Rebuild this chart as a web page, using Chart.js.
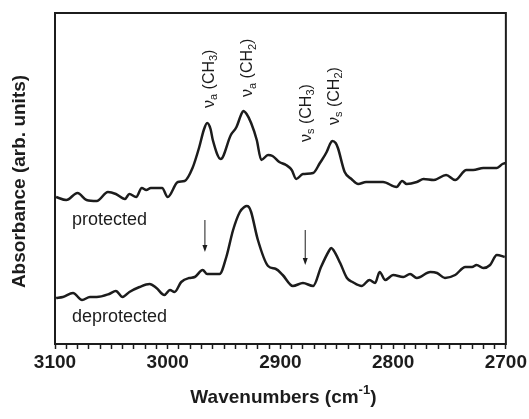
<!DOCTYPE html>
<html>
<head>
<meta charset="utf-8">
<title>IR spectra</title>
<script src="https://cdn.jsdelivr.net/npm/chart.js@4.4.1/dist/chart.umd.min.js"></script>
<style>
  html, body { margin: 0; padding: 0; background: #fff; }
  #wrap { width: 529px; height: 419px; }
</style>
</head>
<body>
<div id="wrap"><canvas id="irChart" width="529" height="419"></canvas></div>
<script>
// Espectros IR (region C-H)

const protectedWn = [3099, 3090, 3080, 3072, 3063, 3053, 3046, 3038, 3034, 3028, 3023, 3019, 3015, 3005, 3000,
    2991, 2985, 2978, 2972, 2968, 2965, 2962, 2960, 2953, 2944, 2939, 2935, 2933, 2930, 2926, 2921, 2917, 2911, 2907, 2901, 2895, 2890,
    2886, 2880, 2871, 2865, 2859, 2856, 2854, 2851, 2849, 2843, 2837, 2831, 2824, 2815, 2809, 2797, 2792, 2788, 2779, 2773,
    2764, 2753, 2745, 2735, 2729, 2720, 2708, 2703, 2700];
const protectedAbs = [1.47, 1.44, 1.51, 1.44, 1.43, 1.52, 1.50, 1.45, 1.50, 1.47, 1.56, 1.54, 1.56, 1.56, 1.47,
    1.62, 1.63, 1.76, 1.97, 2.14, 2.21, 2.15, 2.04, 1.85, 2.09, 2.17, 2.29, 2.33, 2.30, 2.21, 2.04, 1.84, 1.89, 1.88, 1.82, 1.79, 1.74,
    1.65, 1.70, 1.71, 1.81, 1.92, 2.00, 2.03, 2.01, 1.96, 1.72, 1.65, 1.60, 1.62, 1.62, 1.62, 1.57, 1.63, 1.60, 1.62, 1.65,
    1.64, 1.69, 1.64, 1.74, 1.74, 1.76, 1.76, 1.80, 1.81];

const deprotectedWn = [3099, 3093, 3084, 3076, 3069, 3063, 3052, 3046, 3040, 3034, 3025, 3016, 3010, 3003, 2998,
    2994, 2988, 2981, 2976, 2969, 2965, 2954, 2948, 2942, 2936, 2932, 2930, 2928, 2926, 2920, 2911, 2904, 2898, 2889, 2880,
    2871, 2864, 2857, 2855, 2853, 2847, 2841, 2836, 2828, 2821, 2816, 2812, 2807, 2800, 2791, 2785, 2779, 2767, 2761, 2754,
    2745, 2736, 2730, 2726, 2720, 2714, 2708, 2701];
const deprotectedAbs = [0.46, 0.47, 0.51, 0.44, 0.47, 0.47, 0.50, 0.53, 0.47, 0.52, 0.57, 0.60, 0.56, 0.49, 0.54,
    0.52, 0.62, 0.66, 0.67, 0.74, 0.70, 0.70, 0.87, 1.14, 1.32, 1.37, 1.38, 1.37, 1.32, 1.04, 0.78, 0.75, 0.69, 0.58, 0.61,
    0.58, 0.77, 0.93, 0.96, 0.94, 0.81, 0.66, 0.62, 0.58, 0.64, 0.61, 0.72, 0.64, 0.69, 0.67, 0.70, 0.66, 0.72, 0.71, 0.66,
    0.69, 0.77, 0.77, 0.79, 0.76, 0.79, 0.89, 0.87];

// bandas asignadas (modo, grupo) y donde empieza cada etiqueta
const bandModes = ['a', 'a', 's', 's'];
const bandGroups = ['3', '2', '3', '2'];
const bandWn = [2963, 2929, 2877, 2852];
const bandLabelBase = [2.36, 2.47, 2.02, 2.19];

// flechas sobre el espectro desprotegido
const arrowWn = [2967, 2878];
const arrowFrom = [1.24, 1.14];
const arrowTo = [0.92, 0.79];

const xMin = 2700, xMax = 3100;

const FONT = '"Liberation Sans", Arial, Helvetica, sans-serif';
const INK = '#1c1c1c';

/**
 * Dibuja texto con sub/superindices desde (0,0), baseline middle
 */
function drawRuns(ctx, runs, size, weight, measureOnly) {
    let x = 0;
    runs.forEach(([t, kind]) => {
        const s = kind ? Math.round(size * 0.68) : size;
        ctx.font = `${weight} ${s}px ${FONT}`;
        const dy = kind === 'sub' ? size * 0.3 : kind === 'sup' ? -size * 0.4 : 0;
        if (!measureOnly) ctx.fillText(t, x, dy);
        x += ctx.measureText(t).width;
    });
    return x;
}

const annotations = {
    id: 'annotations',
    afterDraw(chart) {
        const { ctx, chartArea: a, scales: { x, y } } = chart;
        ctx.save();
        ctx.fillStyle = INK;
        ctx.strokeStyle = INK;
        ctx.textBaseline = 'middle';
        ctx.textAlign = 'left';

        // marco
        ctx.lineWidth = 2;
        ctx.strokeRect(a.left, a.top, a.right - a.left, a.bottom - a.top);

        // etiquetas de bandas (verticales)
        bandWn.forEach((w, i) => {
            ctx.save();
            ctx.translate(x.getPixelForValue(w), y.getPixelForValue(bandLabelBase[i]));
            ctx.rotate(-Math.PI / 2);
            drawRuns(ctx, [['\u03bd', ''], [bandModes[i], 'sub'], [' (CH', ''], [bandGroups[i], 'sub'], [')', '']], 16, 'normal');
            ctx.restore();
        });

        // flechas
        ctx.lineWidth = 1;
        arrowWn.forEach((w, i) => {
            const px = x.getPixelForValue(w);
            const y0 = y.getPixelForValue(arrowFrom[i]);
            const y1 = y.getPixelForValue(arrowTo[i]);
            ctx.beginPath();
            ctx.moveTo(px, y0);
            ctx.lineTo(px, y1 - 6);
            ctx.stroke();
            ctx.beginPath();
            ctx.moveTo(px - 2.5, y1 - 7);
            ctx.lineTo(px + 2.5, y1 - 7);
            ctx.lineTo(px, y1);
            ctx.closePath();
            ctx.fill();
        });

        // nombres de las curvas
        ctx.font = `18px ${FONT}`;
        ctx.fillText('protected', x.getPixelForValue(3085), y.getPixelForValue(1.24));
        ctx.fillText('deprotected', x.getPixelForValue(3085), y.getPixelForValue(0.27));

        // titulo eje x
        const xRuns = [['Wavenumbers (cm', ''], ['-1', 'sup'], [')', '']];
        const tw = drawRuns(ctx, xRuns, 19, 'bold', true);
        ctx.save();
        ctx.translate((a.left + a.right) / 2 - tw / 2 + 3, 398);
        drawRuns(ctx, xRuns, 19, 'bold');
        ctx.restore();

        // titulo eje y
        ctx.save();
        ctx.font = `bold 19px ${FONT}`;
        ctx.textAlign = 'center';
        ctx.translate(20, (a.top + a.bottom) / 2 + 3);
        ctx.rotate(-Math.PI / 2);
        ctx.fillText('Absorbance (arb. units)', 0, 0);
        ctx.restore();

        ctx.restore();
    }
};

const toPoints = (wn, abs) => wn.map((w, i) => ({ x: w, y: abs[i] }));

new Chart(document.getElementById('irChart'), {
    type: 'line',
    data: {
        datasets: [{
            label: 'protected',
            data: toPoints(protectedWn, protectedAbs),
            borderColor: INK,
            borderWidth: 2.5,
            pointRadius: 0,
            cubicInterpolationMode: 'monotone',
        }, {
            label: 'deprotected',
            data: toPoints(deprotectedWn, deprotectedAbs),
            borderColor: INK,
            borderWidth: 2.5,
            pointRadius: 0,
            cubicInterpolationMode: 'monotone',
        }],
    },
    options: {
        responsive: false,
        animation: false,
        devicePixelRatio: 1,
        layout: { padding: { left: 55, top: 13, right: 23, bottom: 0 } },
        plugins: {
            legend: { display: false },
            tooltip: { enabled: false },
        },
        scales: {
            x: {
                type: 'linear',
                reverse: true,
                min: xMin,
                max: xMax,
                border: { display: false },
                grid: {
                    drawOnChartArea: false,
                    drawTicks: true,
                    tickLength: 5,
                    tickWidth: 1.5,
                    tickColor: INK,
                },
                ticks: {
                    stepSize: 10,
                    autoSkip: false,
                    maxRotation: 0,
                    padding: 2,
                    color: INK,
                    font: { family: FONT, size: 19, weight: 'bold' },
                    callback: v => (v % 100 === 0 ? String(v) : ''),
                },
                afterFit: scale => { scale.height = 75; },
            },
            y: {
                display: false,
                min: 0,
                max: 3.31,
            },
        },
    },
    plugins: [annotations],
});
</script>
</body>
</html>
